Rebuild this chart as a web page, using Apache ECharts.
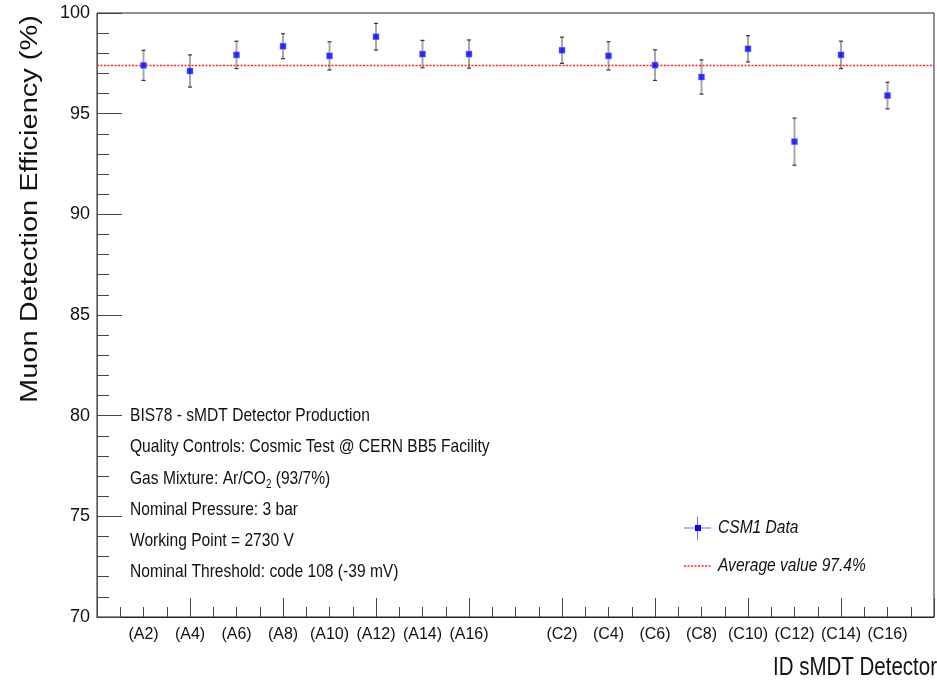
<!DOCTYPE html>
<html>
<head>
<meta charset="utf-8">
<script src="https://cdn.jsdelivr.net/npm/echarts@6/dist/echarts.min.js"></script>
<style>
html,body{margin:0;padding:0;background:#fff;}
#chart{width:937px;height:681px;}
</style>
</head>
<body>
<div id="chart"></div>
<script>
// ---- data ----
const categories = ['(A2)','(A4)','(A6)','(A8)','(A10)','(A12)','(A14)','(A16)','',
                    '(C2)','(C4)','(C6)','(C8)','(C10)','(C12)','(C14)','(C16)'];
const efficiency = [97.40, 97.12, 97.92, 98.35, 97.87, 98.82, 97.96, 97.96, null,
                    98.15, 97.87, 97.41, 96.82, 98.22, 93.61, 97.92, 95.90];
const errors     = [0.75, 0.80, 0.68, 0.62, 0.70, 0.66, 0.68, 0.70, null,
                    0.65, 0.70, 0.76, 0.85, 0.65, 1.17, 0.68, 0.66];
const averageValue = 97.4;
const yMin = 70, yMax = 100, yStep = 5;
const seriesName = 'CSM1 Data';
const averageName = 'Average value 97.4%';
const xTitle = 'ID sMDT Detector';
const yTitle = 'Muon Detection Efficiency (%)';
const notes = [
  'BIS78 - sMDT Detector Production',
  'Quality Controls: Cosmic Test @ CERN BB5 Facility',
  'Gas Mixture: Ar/CO{sub|2} (93/7%)',
  'Nominal Pressure: 3 bar',
  'Working Point = 2730 V',
  'Nominal Threshold: code 108 (-39 mV)'
];

// ---- build ----
const FONT = '"Liberation Sans", Arial, sans-serif';
const NARROW = 0.82;
const points = [];
categories.forEach((c, i) => {
  if (efficiency[i] != null) points.push([i + 1, efficiency[i], errors[i]]);
});

const chart = echarts.init(document.getElementById('chart'), null, {renderer: 'canvas'});

const noteGraphics = notes.map((t, i) => ({
  type: 'text',
  x: 130,
  y: 416 + i * 31.2,
  scaleX: NARROW,
  style: {
    text: t,
    font: '19px ' + FONT,
    fill: '#111',
    verticalAlign: 'middle',
    rich: {
      sub: {font: '12px ' + FONT, fill: '#111', padding: [12, 0, 0, 0]}
    }
  }
}));

const option = {
  animation: false,
  backgroundColor: '#fff',
  grid: {left: 97, top: 13, right: -2, bottom: 64, show: true, borderColor: '#222', borderWidth: 1},
  xAxis: [
    {
      type: 'value', min: 0, max: categories.length + 1, interval: 2,
      axisLine: {show: true, lineStyle: {color: '#222', width: 1}},
      axisTick: {show: true, inside: true, length: 19, lineStyle: {color: '#444'}},
      minorTick: {show: true, splitNumber: 4, length: 10, lineStyle: {color: '#444'}},
      axisLabel: {show: false},
      splitLine: {show: false}, minorSplitLine: {show: false}
    },
    {
      type: 'value', min: 0, max: categories.length + 1, interval: 1,
      position: 'bottom',
      axisLine: {show: false}, axisTick: {show: false},
      splitLine: {show: false},
      axisLabel: {
        show: true, margin: 10, color: '#111', fontSize: 16, fontFamily: FONT,
        formatter: v => (v >= 1 && v <= categories.length) ? categories[v - 1] : ''
      }
    }
  ],
  yAxis: {
    type: 'value', min: yMin, max: yMax, interval: yStep,
    axisLine: {show: true, lineStyle: {color: '#555', width: 1}},
    axisTick: {show: true, inside: true, length: 25, lineStyle: {color: '#444'}},
    minorTick: {show: true, splitNumber: 5, length: 12, lineStyle: {color: '#444'}},
    axisLabel: {margin: 7, color: '#111', fontSize: 18, fontFamily: FONT},
    splitLine: {show: false}
  },
  series: [
    {
      type: 'custom',
      name: seriesName + ' errors',
      xAxisIndex: 0,
      data: points,
      z: 2,
      renderItem: function (params, api) {
        const x = api.value(0), y = api.value(1), e = api.value(2);
        const top = api.coord([x, y + e]);
        const bot = api.coord([x, y - e]);
        return {
          type: 'group',
          children: [
            {type: 'line', shape: {x1: top[0], y1: top[1], x2: bot[0], y2: bot[1]}, style: {stroke: '#a8a8a8', lineWidth: 2}},
            {type: 'line', shape: {x1: top[0] - 2, y1: top[1], x2: top[0] + 2, y2: top[1]}, style: {stroke: '#333', lineWidth: 1.2}},
            {type: 'line', shape: {x1: bot[0] - 2, y1: bot[1], x2: bot[0] + 2, y2: bot[1]}, style: {stroke: '#333', lineWidth: 1.2}}
          ]
        };
      }
    },
    {
      type: 'scatter',
      name: seriesName,
      xAxisIndex: 0,
      data: points.map(p => [p[0], p[1]]),
      symbol: 'rect',
      symbolSize: 6,
      itemStyle: {color: '#0000ff', borderColor: '#7070ff', borderWidth: 0.6},
      z: 4,
      markLine: {
        silent: true,
        symbol: 'none',
        label: {show: false},
        lineStyle: {color: '#ff2020', type: [2, 1.5], width: 1.3},
        data: [{yAxis: averageValue, name: averageName}],
        z: 3
      }
    }
  ],
  graphic: [
    {
      type: 'text',
      x: 30, y: 209,
      rotation: Math.PI / 2,
      scaleY: NARROW,
      style: {text: yTitle, font: '29px ' + FONT, fill: '#111', align: 'center', verticalAlign: 'middle'}
    },
    {
      type: 'text',
      x: 937, y: 668,
      scaleX: NARROW,
      style: {text: xTitle, font: '25px ' + FONT, fill: '#111', align: 'right', verticalAlign: 'middle'}
    },
    ...noteGraphics,
    // legend
    {type: 'line', shape: {x1: 684, y1: 528, x2: 711, y2: 528}, style: {stroke: '#6a6aff', lineWidth: 1}},
    {type: 'line', shape: {x1: 697.5, y1: 517, x2: 697.5, y2: 540}, style: {stroke: '#6a6aff', lineWidth: 1}},
    {type: 'rect', shape: {x: 695, y: 525, width: 6, height: 6}, style: {fill: '#0000ff'}},
    {type: 'text', x: 718, y: 528, scaleX: NARROW, style: {text: seriesName, font: 'italic 19px ' + FONT, fill: '#111', verticalAlign: 'middle'}},
    {type: 'line', shape: {x1: 684, y1: 566, x2: 711, y2: 566}, style: {stroke: '#ff2020', lineWidth: 1.3, lineDash: [2, 1.5]}},
    {type: 'text', x: 718, y: 566, scaleX: NARROW, style: {text: averageName, font: 'italic 19px ' + FONT, fill: '#111', verticalAlign: 'middle'}}
  ]
};
chart.setOption(option);
</script>
</body>
</html>
